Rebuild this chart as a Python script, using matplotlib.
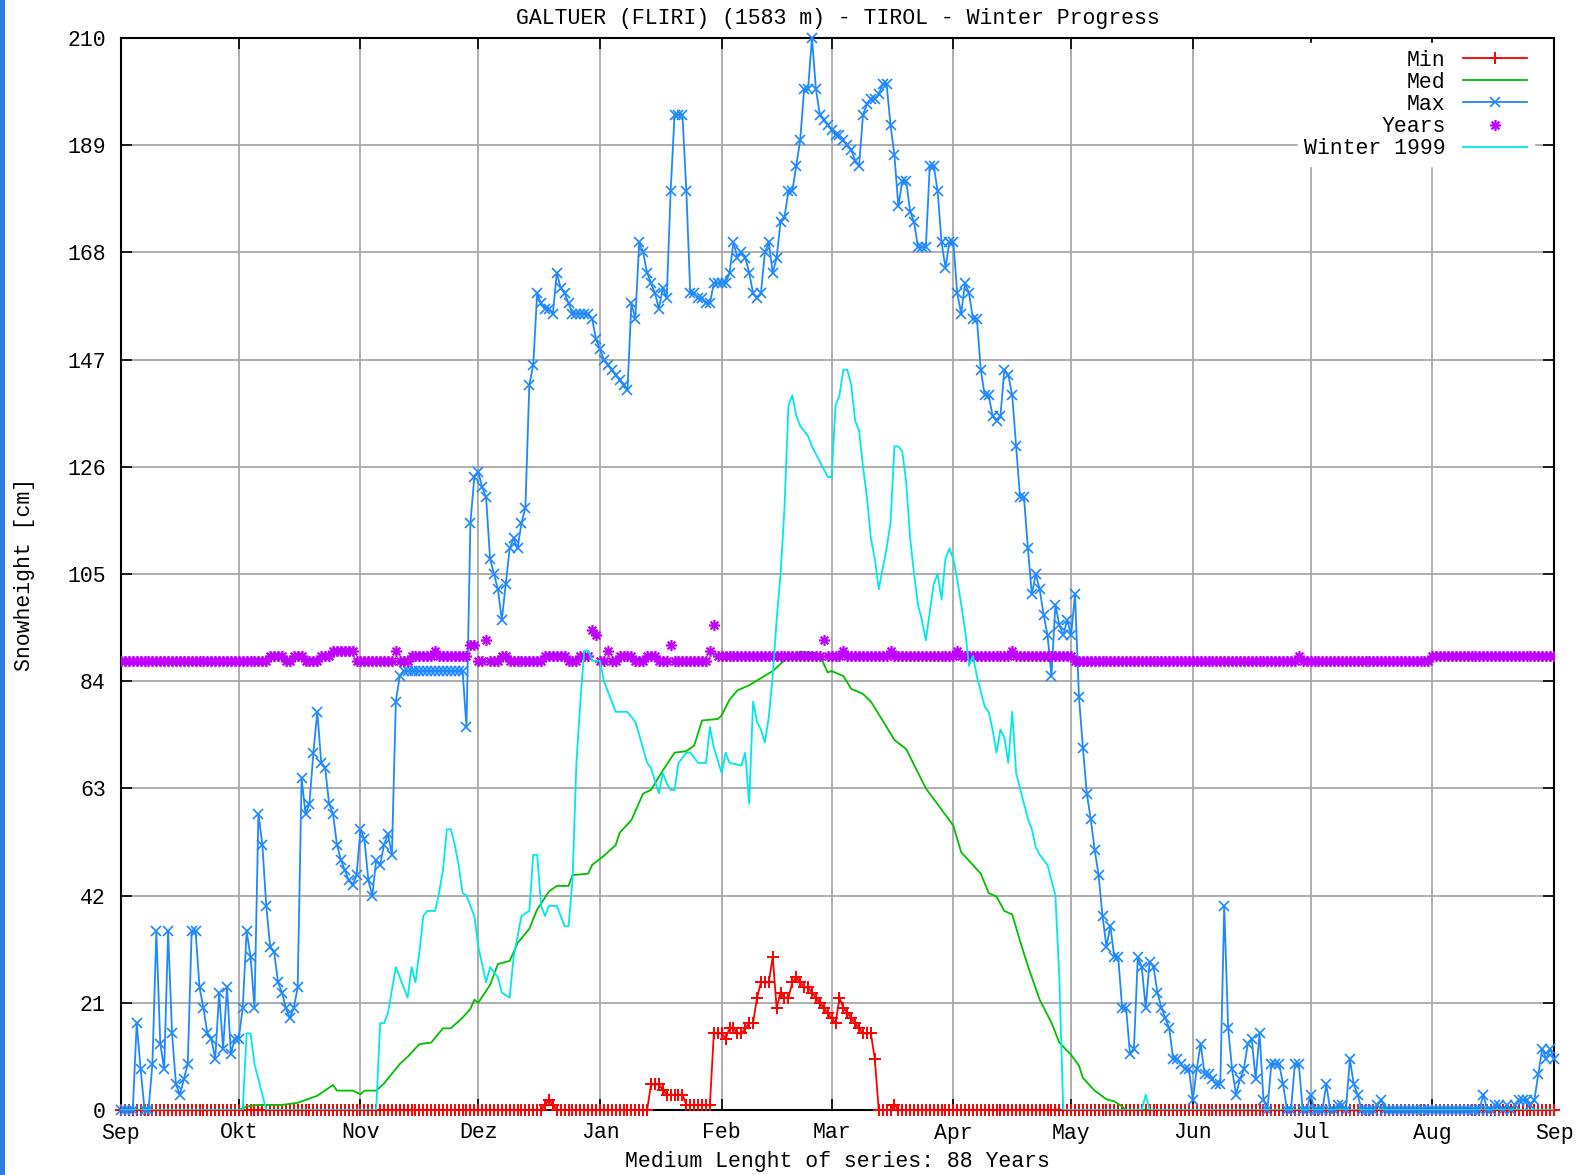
import numpy as np
import matplotlib
matplotlib.use("Agg")
import matplotlib.pyplot as plt
from matplotlib.path import Path
from matplotlib.patches import Rectangle

# ---------------- data (day 0 = 1 Sep, day 365 = 1 Sep next year) ----------------
month_days = [0, 30, 61, 91, 122, 153, 181, 212, 242, 273, 303, 334, 365]
month_labels = ["Sep", "Okt", "Nov", "Dez", "Jan", "Feb", "Mar", "Apr", "May",
                "Jun", "Jul", "Aug", "Sep"]
y_ticks = [0, 21, 42, 63, 84, 105, 126, 147, 168, 189, 210]

# Max (daily values)
max_vals = [
    0, 0, 0, 0, 17, 8, 0, 0, 9, 35,
    13, 8, 35, 15, 5, 3, 6, 9, 35, 35,
    24, 20, 15, 14, 10, 23, 12, 24, 11, 14,
    14, 20, 35, 30, 20, 58, 52, 40, 32, 31,
    25, 23, 20, 18, 20, 24, 65, 58, 60, 70,
    78, 68, 67, 60, 58, 52, 49, 47, 45, 44,
    46, 55, 53, 45, 42, 49, 48, 52, 54, 50,
    80, 85, 86, 86, 86, 86, 86, 86, 86, 86,
    86, 86, 86, 86, 86, 86, 86, 86, 75, 115,
    124, 125, 122, 120, 108, 105, 102, 96, 103, 110,
    112, 110, 115, 118, 142, 146, 160, 158, 157, 157,
    156, 164, 161, 160, 158, 156, 156, 156, 156, 156,
    155, 151, 149, 147, 146, 145, 144, 143, 142, 141,
    158, 155, 170, 168, 164, 162, 160, 157, 161, 159,
    180, 195, 195, 195, 180, 160, 160, 159, 159, 158,
    158, 162, 162, 162, 162, 164, 170, 167, 168, 167,
    164, 160, 159, 160, 168, 170, 164, 167, 174, 175,
    180, 180, 185, 190, 200, 200, 210, 200, 195, 194,
    193, 192, 191, 191, 190, 189, 188, 186, 185, 195,
    197, 198, 198, 199, 201, 201, 193, 187, 177, 182,
    182, 176, 174, 169, 169, 169, 185, 185, 180, 170,
    165, 170, 170, 160, 156, 162, 160, 155, 155, 145,
    140, 140, 136, 135, 136, 145, 144, 140, 130, 120,
    120, 110, 101, 105, 102, 97, 93, 85, 99, 95,
    93, 96, 93, 101, 81, 71, 62, 57, 51, 46,
    38, 32, 36, 30, 30, 20, 20, 11, 12, 30,
    28, 20, 29, 28, 23, 20, 18, 16, 10, 10,
    9, 8, 8, 2, 8, 13, 7, 7, 6, 5,
    5, 40, 16, 8, 3, 6, 8, 13, 14, 6,
    15, 2, 0, 9, 9, 9, 5, 0, 0, 9,
    9, 0, 0, 3, 0, 0, 0, 5, 0, 0,
    1, 1, 0, 10, 5, 3, 0, 0, 0, 0,
    1, 2, 0, 0, 0, 0, 0, 0, 0, 0,
    0, 0, 0, 0, 0, 0, 0, 0, 0, 0,
    0, 0, 0, 0, 0, 0, 0, 3, 0, 0,
    1, 1, 0, 1, 0, 1, 2, 2, 2, 1,
    2, 7, 12, 10, 12, 10,
]

# Min (daily values)
min_vals = ([0] * 108 + [1, 2, 1] + [0] * 24
            + [5, 5, 5, 4, 3, 3, 3, 3, 3, 1, 1, 1, 1, 1, 1, 1]
            + [15, 15, 15, 14, 16, 16, 15, 15, 16, 17,
               17, 22, 25, 25, 25, 30, 20, 23, 22, 22,
               25, 26, 25, 24, 24, 23, 22, 21, 20, 19,
               18, 17, 22, 20, 19, 18, 17, 16, 15, 15,
               15, 10]
            + [0] * 4 + [1] + [0] * 168)

# Years (daily number of years with data)
years_vals = ([88] * 38 + [89] * 4 + [88] * 2 + [89] * 3 + [88] * 4 + [89] * 3
              + [90] * 6 + [88] * 10 + [90] + [88] * 3 + [89] * 6 + [90] + [89] * 8
              + [91] * 2 + [88] * 2 + [92]
              + [88] * 3 + [89] * 2 + [88] * 9 + [89] * 6 + [88] * 3 + [89] * 3
              + [94, 93]
              + [88] * 2 + [90] + [88] * 2 + [89] * 4 + [88] * 3 + [89] * 3 + [88] * 3
              + [91] + [88] * 9 + [90] + [95] + [89] * 27 + [92]
              + [89] * 4 + [90] + [89] * 11 + [90] + [89] * 16 + [90] + [89] * 13
              + [90] + [89] * 15
              + [88] * 57 + [89] + [88] * 33 + [89] * 32)

# Median (read points)
med_days = [0, 30, 32, 35, 41, 45, 50, 54, 55, 59, 61, 62, 65, 67, 71, 73, 76, 79,
            82, 84, 87, 89, 90, 91, 94, 96, 99, 101, 104, 106, 109, 111, 114, 115,
            119, 120, 123, 126, 127, 130, 133, 135, 138, 141, 144, 146, 148, 152,
            153, 155, 157, 160, 163, 166, 169, 173, 177, 178, 180, 181, 184, 186,
            189, 191, 194, 197, 200, 205, 208, 212, 214, 219, 221, 223, 225, 227,
            229, 231, 234, 237, 239, 242, 244, 245, 248, 251, 253, 255, 256, 365]
med_vals = [0, 0, 0.7, 1, 1, 1.4, 2.8, 4.9, 3.8, 3.8, 3.1, 3.8, 3.8, 5.2, 9, 10.4,
            12.9, 13.2, 16, 16, 18.1, 19.8, 21.6, 21, 24.5, 28.6, 29.2, 32.7, 35.5,
            39.3, 42.8, 43.9, 43.9, 46, 46.3, 48, 49.8, 51.9, 54.3, 56.8, 62, 62.7,
            66.5, 70, 70.3, 71.4, 76.3, 76.6, 77.3, 80.4, 82.2, 83.2, 84.6, 86, 88.1,
            89.8, 89.5, 89.1, 85.7, 86, 85, 82.5, 81.5, 80, 76.3, 72.5, 70.7, 63,
            59.9, 55.7, 50.5, 46.3, 42.5, 41.8, 39, 38.3, 33.1, 28.2, 21.6, 17.1,
            13.2, 10.8, 8.7, 6.3, 3.8, 2.1, 1.7, 0.7, 0, 0]

# Winter 1999 (read points)
w99_days = [0, 31, 32, 33, 34, 35, 36, 37, 65, 66, 67, 68, 70, 71, 73, 74, 75, 76,
            77, 78, 80, 81, 82, 83, 84, 85, 86, 87, 88, 90, 91, 93, 94, 96, 97, 99,
            100, 102, 104, 105, 106, 107, 108, 109, 111, 113, 114, 115, 116, 117,
            118, 119, 120, 122, 123, 125, 126, 129, 131, 132, 134, 135, 137, 138,
            139, 140, 141, 142, 144, 145, 147, 149, 150, 151, 153, 154, 155, 158,
            159, 160, 161, 162, 163, 164, 165, 166, 167, 168, 169, 170, 171, 172,
            173, 175, 176, 178, 180, 181, 182, 183, 184, 185, 186, 187, 188, 189,
            190, 191, 192, 193, 194, 195, 196, 197, 198, 199, 200, 201, 202, 203,
            204, 205, 207, 208, 209, 210, 211, 212, 213, 214, 215, 216, 217, 218,
            219, 220, 221, 222, 223, 224, 225, 226, 227, 228, 229, 230, 231, 232,
            233, 234, 235, 236, 237, 238, 239, 240, 260, 261, 262, 365]
w99_vals = [0, 0, 15, 15, 9, 6, 3, 0, 0, 17, 17, 19, 28, 26, 22, 28, 25, 31,
            38, 39, 39, 42.5, 47, 55, 55, 52, 48, 42.5, 42, 38, 32, 25, 28, 26, 23, 22,
            30, 38, 39, 50, 50, 40, 38, 40, 40, 36, 36, 45, 68, 80,
            90, 90, 88, 88, 84, 80, 78, 78, 76, 73.5, 68, 67, 62, 66,
            64, 62.7, 62.7, 68, 70, 70, 68, 68, 75, 71, 66, 70, 68, 67.5,
            70, 60, 80, 76, 74.5, 72, 77, 85, 96, 105, 118, 138, 140, 136,
            134, 132, 130, 127, 124, 124, 138, 140, 145, 145, 142, 135, 133, 126,
            120, 112, 108, 102, 106, 110, 115, 130, 130, 129, 123, 112, 105, 99,
            96, 92, 103, 105, 100, 108, 110, 108, 104, 99, 94, 87, 89, 85,
            82, 79, 78, 74.5, 70, 74.5, 73, 68, 78, 66, 63, 60, 57, 55,
            51.5, 50, 49, 48, 45, 42, 26, 0, 0, 3, 0, 0]

days = np.arange(len(max_vals))

# ---------------- style ----------------
FONT = ["Liberation Mono", "DejaVu Sans Mono"]
plt.rcParams["font.family"] = FONT
FS = 15.5

fig = plt.figure(figsize=(15.81, 11.75), dpi=100)
fig.patch.set_facecolor("white")
W, H = 1581, 1175
L, R, T, B = 121, 1554, 38, 1110
ax = fig.add_axes([L / W, 1 - B / H, (R - L) / W, (B - T) / H])

# blue page strip at left edge
fig.patches.append(Rectangle((0, 0), 5 / W, 1, transform=fig.transFigure,
                             facecolor="#2f7ae0", edgecolor="none", zorder=10))

ax.set_xlim(0, 365)
ax.set_ylim(0, 210)
ax.set_xticks(month_days)
ax.set_xticklabels(month_labels)
ax.set_yticks(y_ticks)
ax.set_yticklabels([str(v) for v in y_ticks])
ax.grid(True, color="#a8a8a8", lw=1.3)
ax.set_axisbelow(True)
ax.tick_params(direction="in", length=8, width=1.2, top=True, right=True,
               labelsize=FS, colors="black")
ax.tick_params(axis="x", pad=9)
ax.tick_params(axis="y", pad=11)
for s in ax.spines.values():
    s.set_linewidth(1.5)
    s.set_color("black")
    s.set_zorder(2.5)

# asterisk marker for Years
star = Path([(-1, 0), (1, 0), (0, -1), (0, 1), (-0.7, -0.7), (0.7, 0.7),
             (-0.7, 0.7), (0.7, -0.7)],
            [Path.MOVETO, Path.LINETO] * 4)

lw = 1.3
ax.plot(days, min_vals, color="#ff0000", lw=lw, marker="+", ms=8, mew=1.4,
        label="Min", zorder=3, clip_on=False)
ax.plot(med_days, med_vals, color="#00c000", lw=lw, label="Med", zorder=3)
ax.plot(days, max_vals, color="#1e88ff", lw=lw, marker="x", ms=7, mew=1.2,
        label="Max", zorder=3, clip_on=False)
ax.plot(days, years_vals, linestyle="none", color="#c000ff", marker=star, ms=8,
        mew=1.6, mfc="none", label="Years", zorder=3)
ax.plot(w99_days, w99_vals, color="#00e8e8", lw=lw, label="Winter 1999", zorder=3)

leg = ax.legend(loc="upper right", bbox_to_anchor=(0.986, 0.995), markerfirst=False,
                frameon=True, fancybox=False, framealpha=1, facecolor="white",
                edgecolor="white", prop={"family": FONT, "size": FS},
                handlelength=3.0, handletextpad=0.8, labelspacing=0.05,
                borderpad=0.3, borderaxespad=0)
leg.set_zorder(5)

ax.set_title("GALTUER (FLIRI) (1583 m) - TIROL - Winter Progress",
             fontsize=FS, pad=0, va="center", y=1 + 20 / (B - T))
ax.set_xlabel("Medium Lenght of series: 88 Years", fontsize=FS, va="center")
ax.xaxis.set_label_coords(0.5, -52 / (B - T))
ax.set_ylabel("Snowheight [cm]", fontsize=FS, va="center")
ax.yaxis.set_label_coords((25 - L) / (R - L), 0.5)

fig.savefig("out.png", dpi=100, facecolor="white")
